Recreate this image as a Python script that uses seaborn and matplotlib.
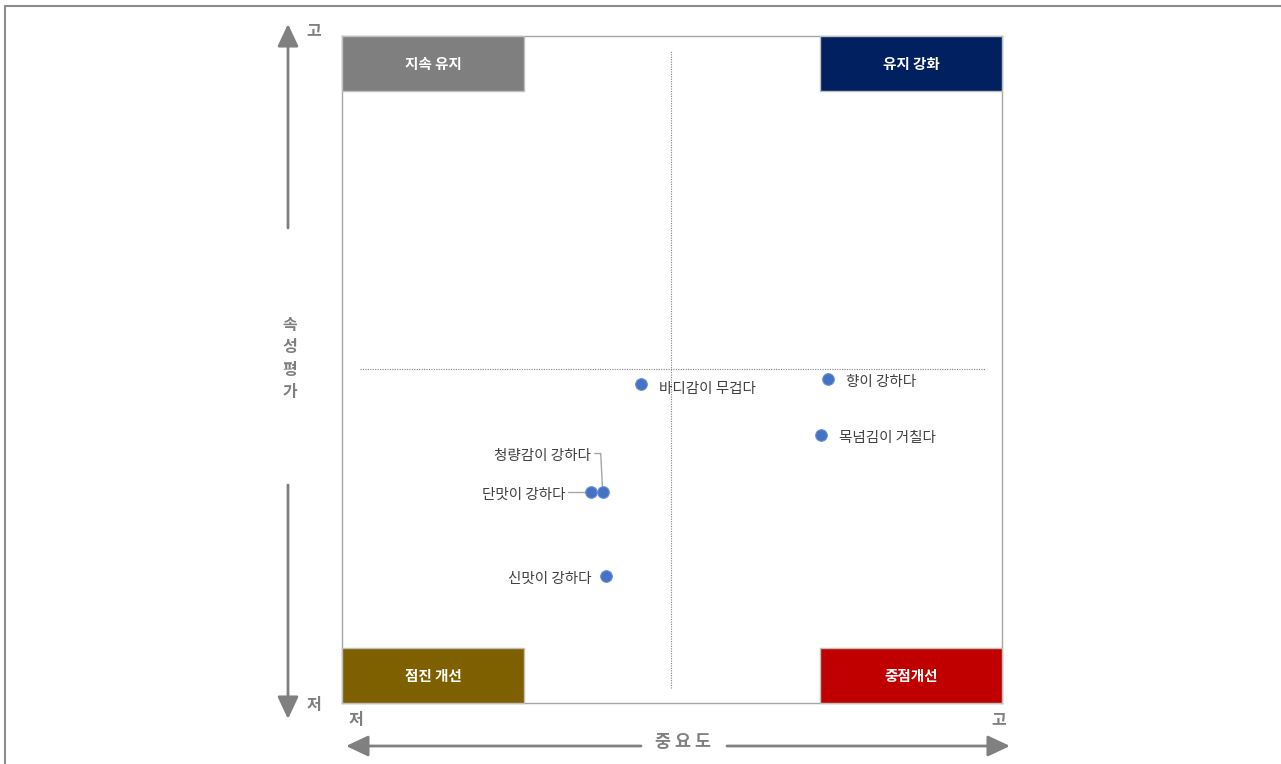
import matplotlib
matplotlib.use("Agg")
import matplotlib.pyplot as plt
from matplotlib.patches import Rectangle, FancyArrowPatch
import seaborn as sns
import pandas as pd

# Attribute positions: importance (x) and attribute evaluation (y), 0-100 scale
attributes = ["바디감이 무겁다", "향이 강하다", "목넘김이 거칠다", "청량감이 강하다", "단맛이 강하다", "신맛이 강하다"]
importance = [45.3, 73.6, 72.6, 39.5, 37.7, 40.0]
evaluation = [47.8, 48.6, 40.2, 31.6, 31.6, 19.0]
mean_importance = 49.8
mean_evaluation = 50.1

quadrant_names = ["지속 유지", "유지 강화", "점진 개선", "중점개선"]
quadrant_colors = ["#7F7F7F", "#002060", "#7F6000", "#C00000"]

sns.set_theme(style="white")
plt.rcParams["font.family"] = ["Noto Sans CJK KR", "DejaVu Sans"]

W, H = 1281, 764
fig = plt.figure(figsize=(W / 100, H / 100), dpi=100)


def fx(px):
    return px / W


def fy(py):
    return 1 - py / H


ax = fig.add_axes([fx(342), fy(703), fx(1002) - fx(342), fy(36) - fy(703)])
df = pd.DataFrame({"attr": attributes, "imp": importance, "eva": evaluation})
sns.scatterplot(data=df, x="imp", y="eva", ax=ax, color="#4472C4", s=70,
                edgecolor="#6A8FD3", linewidth=0.8, zorder=5, legend=False)
ax.set_xlim(0, 100)
ax.set_ylim(0, 100)
ax.set_xticks([])
ax.set_yticks([])
ax.set_xlabel("")
ax.set_ylabel("")
for s in ax.spines.values():
    s.set_color("#A6A6A6")
    s.set_linewidth(1.0)

# Mean reference lines
ax.plot([mean_importance, mean_importance], [2.2, 97.8], ls=(0, (1, 1.2)), color="#808080", lw=0.8)
ax.plot([2.7, 97.4], [mean_evaluation, mean_evaluation], ls=(0, (1, 1.2)), color="#808080", lw=0.8)

# Point labels (small downward nudge so the glyphs sit level with the markers)
dy = -0.4
lab_kw = dict(fontsize=10.5, color="#404040", va="center")
d = dict(zip(attributes, zip(importance, evaluation)))
for name in ["바디감이 무겁다", "향이 강하다", "목넘김이 거칠다"]:
    x, y = d[name]
    ax.text(x + 2.7, y + dy - (0.3 if name == "바디감이 무겁다" else 0), name, ha="left", **lab_kw)
x, y = d["신맛이 강하다"]
ax.text(x - 2.2, y + dy, "신맛이 강하다", ha="right", **lab_kw)

# Leader lines for the overlapping pair
x, y = d["단맛이 강하다"]
ax.text(x - 3.8, y + dy, "단맛이 강하다", ha="right", **lab_kw)
ax.plot([x - 3.4, x], [y, y], color="#A6A6A6", lw=1.0, zorder=4)
x, y = d["청량감이 강하다"]
ax.text(x - 1.8, y + 5.8 + dy, "청량감이 강하다", ha="right", **lab_kw)
ax.plot([x - 1.2, x - 0.3, x], [y + 5.8, y + 5.8, y],
        color="#A6A6A6", lw=1.0, zorder=4)

# Quadrant header boxes
bw, bh = (524 - 342) / 660, 55 / 667
boxes = [(0, 1 - bh), (1 - bw, 1 - bh), (0, 0), (1 - bw, 0)]
for (bx, by), name, col in zip(boxes, quadrant_names, quadrant_colors):
    ax.add_patch(Rectangle((bx, by), bw, bh, transform=ax.transAxes, facecolor=col,
                           edgecolor="#BFBFBF", lw=1.0, zorder=6, clip_on=False))
    ax.text(bx + bw / 2, by + bh / 2, name, transform=ax.transAxes, ha="center", va="center",
            color="white", fontsize=10.5, fontweight="bold", zorder=7)

# Outer axis arrows and captions
arrow_col = "#808080"


def arrow(x0, y0, x1, y1):
    fig.add_artist(FancyArrowPatch(
        (fx(x0), fy(y0)), (fx(x1), fy(y1)), transform=fig.transFigure,
        arrowstyle="-|>,head_length=0.85,head_width=0.4", mutation_scale=16,
        color=arrow_col, lw=2.0, shrinkA=0, shrinkB=0))


arrow(288, 228, 288, 24)
arrow(288, 485, 288, 719)
arrow(641, 746, 346, 746)
arrow(727, 746, 1010, 746)

cap = dict(color="#7F7F7F", fontsize=11.5, fontweight="bold", ha="center", va="center")
fig.text(fx(314), fy(30), "고", **cap)
fig.text(fx(314), fy(705), "저", **cap)
fig.text(fx(356), fy(720), "저", **cap)
fig.text(fx(999), fy(719), "고", **cap)
for i, ch in enumerate("속성평가"):
    fig.text(fx(290), fy(325 + i * 22.5), ch, **cap)
fig.text(fx(683), fy(742), "중 요 도", **{**cap, "fontsize": 12.5})

# Page frame lines
fig.add_artist(plt.Line2D([fx(4.5), fx(4.5)], [0, fy(6)], color="#8C8C8C", lw=1.5))
fig.add_artist(plt.Line2D([fx(4.5), 1], [fy(6), fy(6)], color="#8C8C8C", lw=1.5))

fig.savefig("out.png", dpi=100)
